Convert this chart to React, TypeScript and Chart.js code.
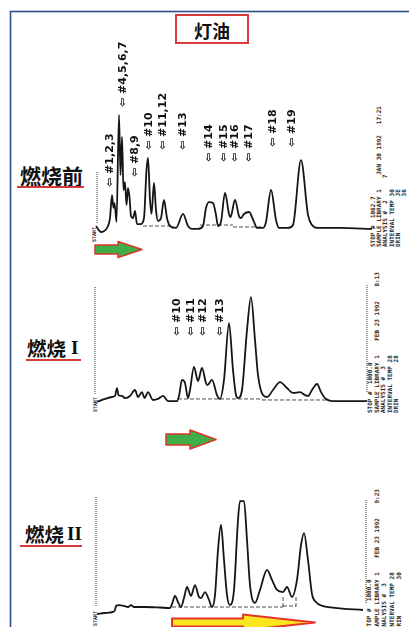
import React, { useEffect, useRef } from "react";
import { Chart, registerables } from "chart.js";
Chart.register(...registerables);

// ---- 燃烧前 (before burning) ----
const preBurnTime = [0.6, 1.1, 1.8, 2.0, 2.2, 2.35, 2.45, 2.65, 2.9, 3.05, 3.2, 3.35, 3.5, 3.65, 3.8, 3.95, 4.1, 4.3, 4.5, 4.7, 5.1, 5.4, 5.65, 5.8, 6.0, 6.15, 6.4, 6.6, 6.8, 7.1, 7.4, 7.7, 8.0, 8.6, 9.3, 9.8, 10.2, 10.8, 11.3, 11.6, 11.9, 12.3, 12.6, 12.8, 13.1, 13.5, 13.9, 14.05, 14.5, 14.9, 15.1, 15.4, 15.9, 16.4, 16.7, 17.3, 17.6, 18.1, 18.6, 18.9, 19.8, 20.3, 21.1, 21.8, 22.2, 22.8, 25.0, 28.2];
const preBurnSignal = [10.0, 5.7, 10.0, 15.7, 32.1, 22.9, 26.4, 12.9, 89.3, 46.4, 73.6, 35.7, 41.4, 25.0, 37.1, 30.7, 17.1, 15.7, 20.7, 11.4, 11.4, 15.7, 50.0, 58.6, 28.6, 18.6, 40.7, 21.4, 13.6, 15.7, 28.6, 15.7, 10.0, 8.6, 18.6, 10.0, 7.9, 7.9, 10.0, 22.9, 27.1, 26.4, 17.9, 10.0, 12.9, 33.6, 18.6, 16.4, 28.6, 17.1, 15.7, 18.6, 20.0, 12.9, 8.6, 8.6, 12.9, 35.7, 14.3, 8.6, 8.6, 10.7, 57.1, 17.9, 10.7, 8.6, 8.6, 7.9];
const preBurnBaseTime = [5.3, 8.3, 8.31, 11.0, 14.3, 14.31, 14.3, 17.2];
const preBurnBaseSignal = [10.0, 10.0, null, 10.7, 10.7, null, 9.3, 9.3];
const preBurnPeakNames = ["#1,2,3", "#4,5,6,7", "#8,9", "#10", "#11,12", "#13", "#14", "#15", "#16", "#17", "#18", "#19"];
const preBurnPeakTime = [2.0, 3.3, 4.5, 5.9, 7.3, 9.3, 11.9, 13.4, 14.5, 15.9, 18.3, 20.2];
const preBurnPeakMark = [37.9, 95.0, 45.0, 64.3, 64.3, 64.3, 55.7, 55.7, 55.7, 55.7, 66.4, 66.4];

// ---- 燃烧 I ----
const burn1Time = [0.7, 1.5, 2.2, 2.5, 2.7, 2.85, 3.2, 3.5, 4.0, 4.5, 4.8, 5.2, 5.45, 5.8, 6.3, 6.8, 7.3, 7.8, 8.7, 8.9, 9.2, 9.5, 9.8, 10.0, 10.4, 10.8, 11.2, 11.6, 11.75, 12.2, 12.7, 13.0, 13.4, 13.9, 14.3, 14.6, 14.8, 15.2, 15.7, 16.1, 16.5, 16.8, 17.3, 17.7, 18.3, 19.0, 19.7, 20.3, 21.0, 21.5, 21.8, 22.2, 22.7, 23.1, 23.5, 24.3, 27.7];
const burn1Signal = [6.2, 8.5, 10.0, 10.8, 16.9, 11.5, 10.8, 9.2, 10.8, 15.4, 10.0, 13.8, 9.2, 13.8, 7.7, 8.5, 10.8, 6.9, 6.9, 10.8, 23.1, 20.8, 9.2, 15.4, 33.1, 22.3, 32.3, 20.8, 19.2, 23.1, 11.5, 8.5, 23.1, 66.9, 30.8, 11.5, 9.2, 15.4, 61.5, 86.9, 53.8, 26.9, 11.5, 10.0, 15.4, 21.5, 16.9, 13.1, 13.8, 11.5, 10.8, 15.4, 20.0, 13.8, 9.2, 6.9, 6.9];
const burn1BaseTime = [8.8, 17.2, 17.21, 17.2, 24.0];
const burn1BaseSignal = [8.5, 8.5, null, 7.7, 7.7];
const burn1PeakNames = ["#10", "#11", "#12", "#13"];
const burn1PeakTime = [8.7, 10.1, 11.3, 13.0];
const burn1PeakMark = [56.9, 56.9, 56.9, 56.9];

// ---- 燃烧 II ----
const burn2Time = [0.7, 1.5, 2.3, 2.5, 2.6, 2.9, 3.4, 3.8, 4.1, 4.4, 5.5, 7.0, 8.0, 8.2, 8.5, 8.8, 9.1, 9.4, 9.7, 10.1, 10.5, 10.9, 11.1, 11.5, 11.9, 12.2, 12.5, 12.8, 13.1, 13.4, 13.7, 14.0, 14.4, 14.8, 15.0, 15.4, 15.7, 16.0, 16.5, 17.0, 17.7, 18.2, 18.7, 19.3, 19.7, 20.2, 20.7, 21.1, 21.4, 21.8, 22.2, 22.6, 23.0, 24.7, 27.3];
const burn2Signal = [4.6, 5.4, 6.2, 7.7, 10.8, 11.5, 10.8, 10.0, 11.5, 10.0, 10.0, 9.6, 9.2, 12.3, 18.5, 13.8, 10.0, 16.9, 25.4, 18.5, 26.9, 17.7, 16.9, 21.5, 15.4, 10.0, 19.2, 53.8, 73.1, 46.2, 19.2, 11.5, 23.1, 76.9, 91.5, 91.5, 61.5, 26.9, 13.1, 23.1, 38.5, 30.8, 23.1, 21.5, 25.4, 17.7, 30.8, 57.7, 66.9, 46.2, 20.0, 13.8, 11.5, 9.2, 7.7];
const burn2BaseTime = [8.2, 19.3, 19.31, 19.3, 19.3, 19.31, 20.6, 20.6, 20.61, 19.3, 20.6];
const burn2BaseSignal = [10.0, 10.0, null, 10.0, 18.5, null, 10.0, 17.7, null, 10.8, 10.8];

// ---- printout texts ----
const preBurnInfo = ["STOP #  1062.7", "SAMPLE LIBRARY 1    JAN 30 1992   17:21", "ANALYSIS #  2      7", "INTERVAL TEMP 30", "DRIN          JE", "              36"];
const burn1Info = ["STOP #  1000.0", "SAMPLE LIBRARY 1    FEB 23 1992    8:13", "ANALYSIS #  3", "INTERVAL TEMP 28", "DRIN          28"];
const burn2Info = ["STOP #  1000.0", "SAMPLE LIBRARY 1    FEB 23 1992    9:23", "ANALYSIS #  3", "INTERVAL TEMP 28", "DRIN          30"];

const zip = (xs: number[], ys: (number | null)[]) => xs.map((x, i) => ({ x, y: ys[i] }));

const peakLabelPlugin = {
  id: "peakLabels",
  afterDatasetsDraw(chart: any, _args: any, opts: any) {
    if (!opts || !opts.names) return;
    const ctx = chart.ctx;
    const xs = chart.scales.x;
    const ys = chart.scales.y;
    ctx.save();
    ctx.fillStyle = "#111";
    ctx.font = 'bold 11px "DejaVu Sans"';
    ctx.textBaseline = "middle";
    ctx.textAlign = "left";
    opts.names.forEach((n: string, i: number) => {
      const px = xs.getPixelForValue(opts.times[i]);
      const py = ys.getPixelForValue(opts.marks[i]);
      ctx.save();
      ctx.translate(px, py);
      ctx.rotate(-Math.PI / 2);
      ctx.fillText("\u21E6 " + n, 0, 0);
      ctx.restore();
    });
    ctx.restore();
  },
};

function build(
  canvas: HTMLCanvasElement,
  t: number[],
  s: number[],
  bt: number[],
  bs: (number | null)[],
  yMax: number,
  labels: any
) {
  return new Chart(canvas, {
    type: "line",
    data: {
      datasets: [
        {
          data: zip(t, s),
          borderColor: "#151515",
          borderWidth: 1.8,
          pointRadius: 0,
          cubicInterpolationMode: "monotone",
          fill: false,
        },
        {
          data: zip(bt, bs),
          borderColor: "#3a3a3a",
          borderWidth: 0.9,
          borderDash: [4, 2],
          pointRadius: 0,
          tension: 0,
          spanGaps: false,
          fill: false,
        },
      ],
    } as any,
    options: {
      animation: false,
      responsive: false,
      events: [],
      layout: { padding: 0 },
      scales: {
        x: { type: "linear", min: 0, max: 29, display: false },
        y: { type: "linear", min: 0, max: yMax, display: false },
      },
      plugins: {
        legend: { display: false },
        tooltip: { enabled: false },
        peakLabels: labels,
      } as any,
    },
    plugins: [peakLabelPlugin as any],
  });
}

function InfoColumns({ lines, x0, step, bottom }: { lines: string[]; x0: number; step: number; bottom: number }) {
  return (
    <g fontFamily='"DejaVu Sans Mono"' fontWeight="bold" fontSize={6} fill="#2a2a2a">
      {lines.map((l, i) => (
        <text key={i} transform={`translate(${x0 + i * step},${bottom}) rotate(-90)`} xmlSpace="preserve">
          {l}
        </text>
      ))}
    </g>
  );
}

export default function App() {
  const r1 = useRef<HTMLCanvasElement>(null);
  const r2 = useRef<HTMLCanvasElement>(null);
  const r3 = useRef<HTMLCanvasElement>(null);

  useEffect(() => {
    const charts = [
      build(r1.current!, preBurnTime, preBurnSignal, preBurnBaseTime, preBurnBaseSignal, 150, {
        names: preBurnPeakNames,
        times: preBurnPeakTime,
        marks: preBurnPeakMark,
      }),
      build(r2.current!, burn1Time, burn1Signal, burn1BaseTime, burn1BaseSignal, 100, {
        names: burn1PeakNames,
        times: burn1PeakTime,
        marks: burn1PeakMark,
      }),
      build(r3.current!, burn2Time, burn2Signal, burn2BaseTime, burn2BaseSignal, 100, {}),
    ];
    return () => charts.forEach((c) => c.destroy());
  }, []);

  const cjk = '"Noto Sans CJK SC", "Noto Sans CJK JP", sans-serif';
  const serif = '"Liberation Serif", "DejaVu Serif", serif';

  return (
    <div style={{ position: "fixed", left: 0, top: 0, width: 409, height: 627, background: "#fff", overflow: "hidden" }}>
      <svg width={409} height={627} style={{ position: "absolute", left: 0, top: 0 }}>
        <rect x={10.5} y={11.5} width={420} height={640} fill="none" stroke="#2e4f8c" strokeWidth={1.6} />
        <rect x={176} y={15} width={72} height={28} fill="#fff" stroke="#d8383e" strokeWidth={2} />
        <text x={212} y={30} textAnchor="middle" dominantBaseline="central" fontSize={18} fontWeight="bold" fontFamily={cjk} fill="#111">
          灯油
        </text>

        <text x={20} y={175} dominantBaseline="central" fontSize={21} fontWeight="bold" fontFamily={cjk} fill="#111">
          燃烧前
        </text>
        <line x1={17} y1={187} x2={84} y2={187} stroke="#d63b3b" strokeWidth={1.8} />

        <text x={27} y={347} dominantBaseline="central" fontSize={19.5} fontWeight="bold" fontFamily={cjk} fill="#111">
          燃烧<tspan fontFamily={serif} fontSize={19} dx={5}>I</tspan>
        </text>
        <line x1={26} y1={360} x2={81} y2={360} stroke="#d63b3b" strokeWidth={1.8} />

        <text x={25} y={533} dominantBaseline="central" fontSize={19.5} fontWeight="bold" fontFamily={cjk} fill="#111">
          燃烧<tspan fontFamily={serif} fontSize={19} dx={3}>II</tspan>
        </text>
        <line x1={20} y1={546} x2={82} y2={546} stroke="#d63b3b" strokeWidth={1.8} />

        <polygon points="95,245 118,245 118,241.5 142,249.5 118,257.5 118,254 95,254" fill="#3fae49" stroke="#d9362c" strokeWidth={1.5} strokeLinejoin="round" />
        <polygon points="166,434 190,434 190,430 216,439.5 190,449 190,445 166,445" fill="#3fae49" stroke="#d9362c" strokeWidth={1.5} strokeLinejoin="round" />
        <polygon points="172,618.5 243,618.5 243,614.5 315,622.5 243,630.5 243,626.5 172,626.5" fill="#fbe620" stroke="#e5352b" strokeWidth={2} strokeLinejoin="round" />

        <g stroke="#333" strokeWidth={1} strokeDasharray="1 1">
          <line x1={97} y1={172} x2={97} y2={224} />
          <line x1={95} y1={287} x2={95} y2={395} />
          <line x1={96} y1={497} x2={96} y2={607} />
          <line x1={367} y1={285} x2={367} y2={393} />
          <line x1={366} y1={500} x2={366} y2={604} />
        </g>

        <g fontFamily='"DejaVu Sans Mono"' fontWeight="bold" fontSize={5} fill="#2a2a2a">
          <text transform="translate(96,242) rotate(-90)">START</text>
          <text transform="translate(97,412) rotate(-90)">START</text>
          <text transform="translate(97,626) rotate(-90)">START</text>
        </g>

        <InfoColumns lines={preBurnInfo} x0={375} step={6.2} bottom={247} />
        <InfoColumns lines={burn1Info} x0={372} step={6.5} bottom={413} />
        <InfoColumns lines={burn2Info} x0={371} step={7.5} bottom={630} />
      </svg>
      <canvas ref={r1} width={290} height={210} style={{ position: "absolute", left: 90, top: 30 }} />
      <canvas ref={r2} width={290} height={130} style={{ position: "absolute", left: 90, top: 280 }} />
      <canvas ref={r3} width={290} height={130} style={{ position: "absolute", left: 90, top: 490 }} />
    </div>
  );
}
